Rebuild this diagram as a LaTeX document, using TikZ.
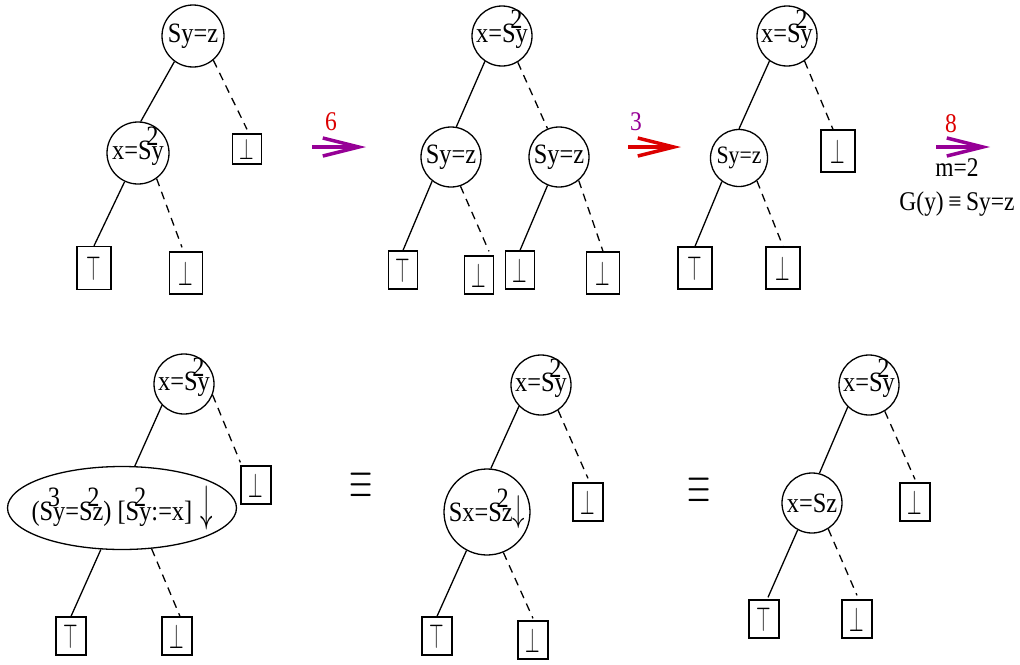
\documentclass[tikz,border=0pt]{standalone}
\usepackage{fontspec}
\setmainfont{Liberation Serif}[FakeStretch=0.87]
\usepackage{graphicx}
\usetikzlibrary{shapes.geometric,arrows.meta}
\definecolor{mypurple}{RGB}{150,0,150}
\definecolor{myred}{RGB}{220,0,0}
\newcommand{\ovr}[1]{\llap{\raisebox{0.5em}[0pt][0pt]{#1}\kern-0.25em}}
\newcommand{\tp}{\scalebox{0.75}[1.4]{$\top$}}
\newcommand{\bt}{\scalebox{0.75}[1.4]{$\bot$}}
\newcommand{\dn}[1]{\scalebox{1}[#1]{$\downarrow$}}
\tikzset{
  txt/.style={font=\fontsize{27}{30}\selectfont, inner sep=0pt},
  cnode/.style={draw, circle, line width=1.3pt, inner sep=0pt, minimum size=60pt, font=\fontsize{28}{30}\selectfont},
  bnode/.style={draw, rectangle, line width=1.3pt, inner sep=0pt, minimum width=30pt, minimum height=38pt, font=\fontsize{24}{24}\selectfont},
  solidedge/.style={line width=1.3pt},
  dashedge/.style={line width=1.3pt, dash pattern=on 8pt off 6pt},
  bigarrow/.style={line width=3.5pt, -{Straight Barb[length=36pt,width=18pt,line width=3.5pt]}},
  eqv/.style={font=\fontsize{24}{24}\selectfont, inner sep=0pt},
}
\begin{document}
\begin{tikzpicture}[x=1pt,y=-1pt]
\useasboundingbox (0,0) rectangle (1020,664);
% ---------- Tree 1
\node[cnode, minimum size=62pt] (a1) at (193,36) {Sy=z};
\node[cnode, minimum size=62pt] (a2) at (138,153) {x=S\ovr{2}y};
\node[bnode, minimum width=29pt, minimum height=30pt] (a3) at (247,149) {\scalebox{0.75}[1.2]{$\bot$}};
\node[bnode, minimum width=34pt, minimum height=43pt] (a4) at (94,268) {\tp};
\node[bnode, minimum width=33pt, minimum height=42pt] (a5) at (186,273) {\bt};
\draw[solidedge] (a1.234) -- (a2.85);
\draw[dashedge] (a1.310) -- ([yshift=4pt]a3.north);
\draw[solidedge] (a2.245) -- (a4.north);
\draw[dashedge] (a2.306) -- ([xshift=-4pt,yshift=4pt]a5.north);
% arrow 6
\coordinate (p1s) at (312,147); \coordinate (p1e) at (366,147);
\draw[bigarrow, mypurple] (p1s) -- (p1e);
\node[txt, text=myred] (l6) at (331,122) {6};
% ---------- Tree 2
\node[cnode] (b1) at (502,36) {x=S\ovr{2}y};
\node[cnode] (b2) at (451,157) {Sy=z};
\node[cnode] (b3) at (559,157) {Sy=z};
\node[bnode, minimum width=29pt] (b4) at (403,270) {\tp};
\node[bnode, minimum width=29pt] (b5) at (479,275) {\bt};
\node[bnode, minimum width=29pt] (b6) at (520,270) {\bt};
\node[bnode, minimum width=33pt, minimum height=42pt] (b7) at (603,273) {\bt};
\draw[solidedge] (b1.236) -- (b2.80);
\draw[dashedge] (b1.301) -- (b3.112);
\draw[solidedge] (b2.232) -- (b4.north);
\draw[dashedge] (b2.288) -- ([xshift=10pt,yshift=4pt]b5.north);
\draw[solidedge] (b3.248) -- (b6.north);
\draw[dashedge] (b3.310) -- (b7.north);
% arrow 3
\coordinate (p2s) at (628,147); \coordinate (p2e) at (681,147);
\draw[bigarrow, myred] (p2s) -- (p2e);
\node[txt, text=mypurple] (l3) at (636,122) {3};
% ---------- Tree 3
\node[cnode] (c1) at (787,36) {x=S\ovr{2}y};
\node[cnode, minimum size=57pt, font=\fontsize{25}{28}\selectfont] (c2) at (739,158) {Sy=z};
\node[bnode, minimum width=34pt, minimum height=42pt] (c3) at (838,151) {\bt};
\node[bnode, minimum width=34pt, minimum height=42pt] (c4) at (695,268) {\tp};
\node[bnode, minimum width=34pt, minimum height=42pt] (c5) at (783,268) {\bt};
\draw[solidedge] (c1.235) -- (c2.north);
\draw[dashedge] (c1.305) -- ([xshift=-5pt]c3.north);
\draw[solidedge] (c2.234) -- (c4.north);
\draw[dashedge] (c2.308) -- (c5.north);
% arrow 8
\coordinate (p3s) at (936,147); \coordinate (p3e) at (990,147);
\draw[bigarrow, mypurple] (p3s) -- (p3e);
\node[txt, text=myred] (l8) at (951,124) {8};
\node[txt] (m2) at (957,168) {m=2};
\node[txt] (gy) at (957,204) {G(y)\,≡\,Sy=z};
% ---------- Tree 4
\node[cnode] (d1) at (184,384) {x=S\ovr{2}y};
\node[draw, ellipse, line width=1.3pt, inner xsep=-20pt, inner ysep=0pt, minimum width=229pt, minimum height=83pt, font=\fontsize{28}{30}\selectfont] (d2) at (122,508) {(S\ovr{3}y=S\ovr{2}z) [S\ovr{2}y:=x]\;\dn{2}};
\node[bnode] (d3) at (256,485) {\bt};
\node[bnode] (d4) at (71,636) {\tp};
\node[bnode] (d5) at (177,636) {\bt};
\draw[solidedge] (d1.224) -- (d2.73);
\draw[dashedge] (d1.339) -- ([yshift=3pt]d3.north west);
\draw[solidedge] (d2.243) -- (d4.north);
\draw[dashedge] (d2.306) -- ([xshift=3pt]d5.north);
% equiv 1
\node[eqv] (eq1) at (361,486) {\scalebox{1.2}[2.2]{$\equiv$}};
% ---------- Tree 5
\node[cnode] (e1) at (541,385) {x=S\ovr{2}y};
\node[cnode, minimum size=86pt] (e2) at (487,512) {Sx=S\ovr{2}z\dn{1.5}};
\node[bnode] (e3) at (588,502) {\bt};
\node[bnode] (e4) at (437,636) {\tp};
\node[bnode] (e5) at (533,640) {\bt};
\draw[solidedge] (e1.224) -- (e2.85);
\draw[dashedge] (e1.304) -- ([yshift=4pt]e3.north);
\draw[solidedge] (e2.242) -- (e4.north);
\draw[dashedge] (e2.292) -- ([yshift=2pt]e5.north);
% equiv 2
\node[eqv] (eq2) at (699,491) {\scalebox{1.2}[2.2]{$\equiv$}};
% ---------- Tree 6
\node[cnode] (f1) at (869,385) {x=S\ovr{2}y};
\node[cnode] (f2) at (812,503) {x=Sz};
\node[bnode] (f3) at (915,502) {\bt};
\node[bnode] (f4) at (764,619) {\tp};
\node[bnode] (f5) at (857,619) {\bt};
\draw[solidedge] (f1.226) -- (f2.76);
\draw[dashedge] (f1.301) -- ([yshift=3pt]f3.north);
\draw[solidedge] (f2.242) -- ([xshift=4pt,yshift=2pt]f4.north);
\draw[dashedge] (f2.302) -- ([yshift=4pt]f5.north);
\end{tikzpicture}
\end{document}
